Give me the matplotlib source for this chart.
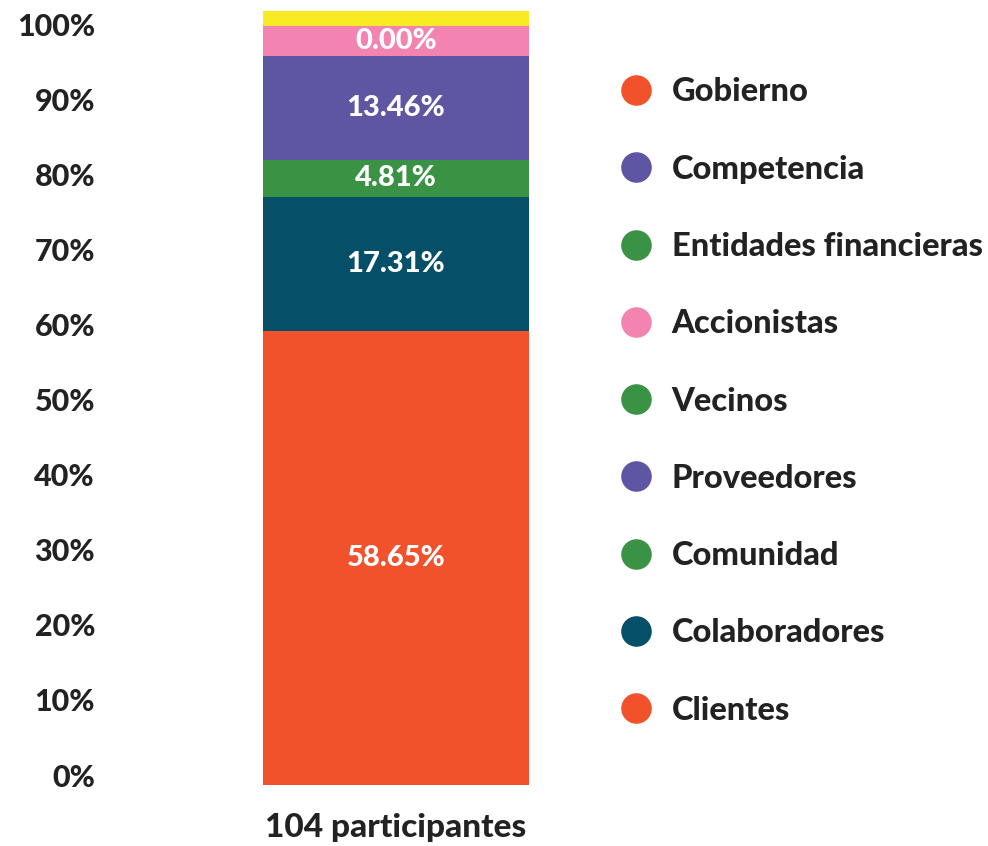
import matplotlib.pyplot as plt
from matplotlib.lines import Line2D

plt.rcParams['font.family'] = ['Lato', 'DejaVu Sans']

# stacked segments, bottom to top
segments = ['Clientes', 'Colaboradores', 'Comunidad', 'Proveedores', 'Accionistas', 'Otros']
seg_values = [58.65, 17.31, 4.81, 13.46, 3.85, 1.92]
seg_labels = ['58.65%', '17.31%', '4.81%', '13.46%', '0.00%', '']
seg_colors = ['#F2522B', '#054F68', '#3A9244', '#5E55A3', '#F383B1', '#F9EB23']

# legend entries, top to bottom
legend_names = ['Gobierno', 'Competencia', 'Entidades financieras', 'Accionistas',
                'Vecinos', 'Proveedores', 'Comunidad', 'Colaboradores', 'Clientes']
legend_colors = ['#F2522B', '#5E55A3', '#3A9244', '#F383B1',
                 '#3A9244', '#5E55A3', '#3A9244', '#054F68', '#F2522B']

category = '104 participantes'
ticks = list(range(0, 101, 10))
text_color = '#222222'
W = 'black'

fig = plt.figure(figsize=(9.88, 8.46), dpi=100)
ax = fig.add_axes([263 / 988, 61 / 846, 266 / 988, 774 / 846])

bottom = 0
for name, v, lab, c in zip(segments, seg_values, seg_labels, seg_colors):
    ax.bar(0, v, bottom=bottom, width=1.0, color=c, edgecolor='none')
    if lab:
        ax.text(0, bottom + v / 2, lab, ha='center', va='center', color='white',
                fontsize=21, fontweight=W)
    bottom += v

ax.set_xlim(-0.5, 0.5)
ax.set_ylim(0, 100)
ax.set_yticks([])
ax.set_xticks([0])
ax.set_xticklabels([category], fontsize=24, fontweight=W, color=text_color)
ax.tick_params(axis='x', length=0, pad=20)
for s in ax.spines.values():
    s.set_visible(False)

# percent scale sits on its own slightly shorter axis, as in the original
sc = fig.add_axes([263 / 988, 71 / 846, 0.001, 751 / 846])
sc.set_ylim(0, 100)
sc.set_yticks(ticks)
sc.set_yticklabels([f'{t}%' for t in ticks], fontsize=22, fontweight=W, color=text_color)
sc.tick_params(axis='y', length=0, pad=168 * 72 / 100)
sc.set_xticks([])
sc.patch.set_visible(False)
for s in sc.spines.values():
    s.set_visible(False)

handles = [Line2D([], [], marker='o', linestyle='', color=c, markersize=21) for c in legend_colors]
fig.legend(handles, legend_names, loc='upper left', bbox_to_anchor=(603 / 988, 1 - 61 / 846),
           frameon=False, prop={'size': 23.5, 'weight': W}, labelcolor=text_color,
           handlelength=1.0, handletextpad=0.6, labelspacing=1.48, borderpad=0)

fig.savefig('out.png', dpi=100)
